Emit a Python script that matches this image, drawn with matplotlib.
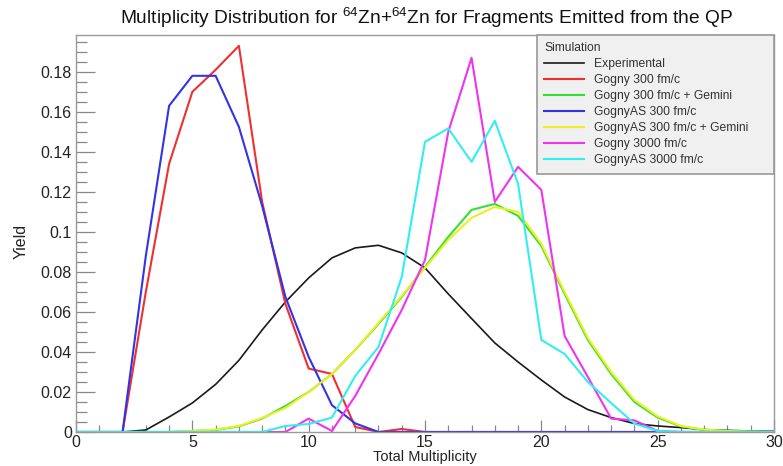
import numpy as np
import matplotlib
matplotlib.use('Agg')
import matplotlib.pyplot as plt
from matplotlib.ticker import MultipleLocator, FuncFormatter

plt.rcParams['font.family'] = ['Liberation Sans', 'DejaVu Sans']
plt.rcParams['mathtext.fontset'] = 'custom'
plt.rcParams['mathtext.rm'] = 'Liberation Sans'

################################################################################
# data
mult = list(range(0, 31))

experimental = [0, 0, 0, 0.001, 0.0075, 0.0145, 0.0238, 0.0358, 0.051, 0.065,
                0.077, 0.087, 0.092, 0.0933, 0.0895, 0.082, 0.069, 0.0567, 0.0445, 0.035,
                0.026, 0.0175, 0.0112, 0.0072, 0.0042, 0.003, 0.0022, 0.0012, 0.0008, 0.0005,
                0.0003]
gogny300 = [0, 0, 0, 0.070, 0.134, 0.170, 0.181, 0.193, 0.115, 0.064,
            0.0317, 0.029, 0.0025, 0, 0.0015, 0, 0, 0, 0, 0,
            0, 0, 0, 0, 0, 0, 0, 0, 0, 0, 0]
gogny300_gem = [0, 0, 0, 0, 0, 0.0005, 0.001, 0.0028, 0.0067, 0.013,
                0.020, 0.029, 0.041, 0.054, 0.0675, 0.0825, 0.0975, 0.111, 0.114, 0.108,
                0.093, 0.069, 0.046, 0.029, 0.015, 0.0072, 0.0028, 0.001, 0.0005, 0.0002, 0]
gognyas300 = [0, 0, 0, 0.088, 0.163, 0.178, 0.178, 0.1525, 0.113, 0.0675,
              0.0375, 0.0134, 0.0043, 0, 0, 0, 0, 0, 0, 0,
              0, 0, 0, 0, 0, 0, 0, 0, 0, 0, 0]
gognyas300_gem = [0, 0, 0, 0, 0, 0.0005, 0.0012, 0.003, 0.007, 0.012,
                  0.020, 0.029, 0.041, 0.0545, 0.068, 0.082, 0.096, 0.107, 0.1125, 0.110,
                  0.094, 0.070, 0.047, 0.030, 0.016, 0.0078, 0.003, 0.0012, 0.0005, 0.0002, 0]
gogny3000 = [0, 0, 0, 0, 0, 0, 0, 0, 0, 0,
             0.0067, 0.0005, 0.018, 0.039, 0.061, 0.086, 0.150, 0.187, 0.115, 0.1325,
             0.121, 0.048, 0.0275, 0.0067, 0.0058, 0.0005, 0, 0, 0, 0, 0]
gognyas3000 = [0, 0, 0, 0, 0, 0, 0, 0, 0, 0.003,
               0.004, 0.0072, 0.028, 0.0425, 0.0775, 0.145, 0.1517, 0.135, 0.1555, 0.124,
               0.046, 0.039, 0.025, 0.0145, 0.0042, 0.0005, 0, 0, 0, 0, 0]
################################################################################

fig = plt.figure(figsize=(7.83, 4.66), dpi=100)
ax = fig.add_axes([0.0971, 0.0730, 0.8914, 0.8519])

ax.plot(mult, experimental, color='#1a1a1a', lw=1.2, label='Experimental')
ax.plot(mult, gogny300, color='#f03030', lw=1.5, label='Gogny 300 fm/c')
ax.plot(mult, gogny300_gem, color='#33e033', lw=1.5, label='Gogny 300 fm/c + Gemini')
ax.plot(mult, gognyas300, color='#3333e6', lw=1.5, label='GognyAS 300 fm/c')
ax.plot(mult, gognyas300_gem, color='#eeee22', lw=1.5, label='GognyAS 300 fm/c + Gemini')
ax.plot(mult, gogny3000, color='#f033f0', lw=1.5, label='Gogny 3000 fm/c')
ax.plot(mult, gognyas3000, color='#33eeee', lw=1.5, label='GognyAS 3000 fm/c')

ax.set_xlim(0, 30)
ax.set_ylim(0, 0.1984)

ax.xaxis.set_major_locator(MultipleLocator(5))
ax.xaxis.set_minor_locator(MultipleLocator(1))
ax.yaxis.set_major_locator(MultipleLocator(0.02))
ax.yaxis.set_minor_locator(MultipleLocator(0.005))
ax.yaxis.set_major_formatter(FuncFormatter(lambda v, _: f"{v:g}"))

ax.tick_params(axis='both', which='both', direction='in', colors='#888888',
               labelcolor='#222222', labelsize=11.5)
ax.tick_params(axis='y', which='major', length=14, width=0.9, pad=3)
ax.tick_params(axis='y', which='minor', length=8, width=0.9)
ax.tick_params(axis='x', which='major', length=9, width=0.9, pad=2)
ax.tick_params(axis='x', which='minor', length=5, width=0.9)
for s in ax.spines.values():
    s.set_color('#999999')
    s.set_linewidth(1.0)

ax.set_xlabel('Total Multiplicity', fontsize=10.5, color='#222222')
ax.set_ylabel('Yield', fontsize=11.5, color='#222222')
ax.xaxis.set_label_coords(0.5, -0.046)
ax.yaxis.set_label_coords(-0.068, 0.48)

fig.text(0.545, 0.963, 'Multiplicity Distribution for $^{64}$Zn+$^{64}$Zn for Fragments Emitted from the QP',
         ha='center', va='center', fontsize=13.8, color='#111111')

leg = ax.legend(loc='upper left', bbox_to_anchor=(0.660, 0.60, 0.340, 0.40), mode='expand',
                title='Simulation', alignment='left', fontsize=8.75, title_fontsize=8.75,
                frameon=True, fancybox=False, edgecolor='#999999', facecolor='#f0f0f0',
                framealpha=1, handlelength=3.3, handletextpad=0.8, labelspacing=0.33,
                borderpad=0.6, borderaxespad=0.0)
leg.get_frame().set_linewidth(1.2)
for t in leg.get_texts():
    t.set_color('#333333')
leg.get_title().set_color('#333333')

fig.savefig('out.png', dpi=100)
